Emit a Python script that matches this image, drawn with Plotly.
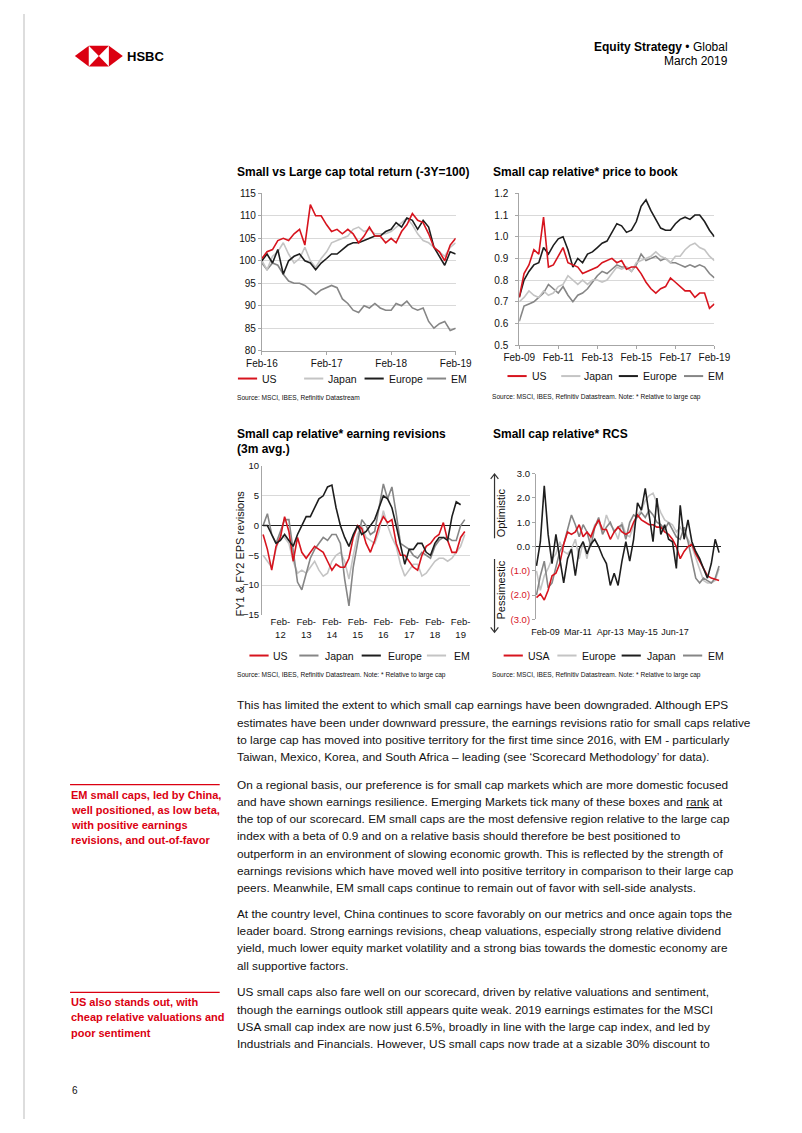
import plotly.graph_objects as go
import pandas as pd

# page is 802x1133; the html body adds an 8px margin, so the figure is drawn 16px smaller
PAGE_W, PAGE_H = 802, 1133
OFF = 8
W, H = PAGE_W - 2 * OFF, PAGE_H - 2 * OFF
FONT = "Liberation Sans, Arial, sans-serif"
RED = "#D7141E"
BLACK = "#1E1E1E"
MID = "#868686"
LIGHT = "#C4C4C4"
GRID = "#D9D9D9"
AXL = "#A6A6A6"

# ---------------- data ----------------
# Chart 1: Small vs Large cap total return (-3Y=100), monthly Feb-16 .. Feb-19
c1_dates = pd.date_range("2016-02-01", periods=37, freq="MS")
c1_us = [100.5, 102, 102.5, 104.5, 105, 104.5, 106, 107, 103.5, 112.5, 110, 110, 108, 106.5, 107, 106, 107, 106, 104,
         105.5, 107.5, 105.5, 105.5, 104, 105, 104, 106.5, 108, 110.5, 109, 108.5, 106, 103, 102, 100, 103.5, 105]
c1_japan = [100, 98, 101, 102, 104, 101.5, 99.5, 100.5, 103, 100, 98.5, 100.5, 102, 104, 104.5, 105, 105.5, 107, 107.5,
            106.5, 107, 106, 106, 106, 106.5, 107.5, 108.5, 109.5, 108, 106, 104.5, 104, 103, 102, 101, 103, 104]
c1_europe = [100, 101.5, 99.5, 102.5, 97, 100, 101, 101.5, 100, 99.5, 98, 99.5, 100.5, 101.5, 101.5, 102.5, 103.5, 104,
             104, 104.5, 105, 105.5, 105.5, 106.5, 107, 108.5, 107.5, 109.5, 109, 107, 109, 107.5, 103, 101, 99, 102, 101.5]
c1_em = [99.5, 98, 99.5, 99, 97, 95.5, 95, 95, 94.5, 93.5, 92.5, 93.5, 94, 94.5, 94, 91.5, 90.5, 89, 88.5, 90, 89.5,
         90.5, 89.5, 89, 89, 90.5, 90, 91, 89.5, 89, 89.5, 86.5, 85, 86, 86.5, 84.5, 85]
c1_ticks = ["2016-02-01", "2017-02-01", "2018-02-01", "2019-02-01"]

# Chart 2: Small cap relative price to book, quarterly Feb-09 .. Feb-19
c2_dates = pd.date_range("2009-02-01", periods=41, freq="3MS")
c2_us = [0.72, 0.83, 0.87, 0.94, 0.92, 1.09, 0.86, 0.87, 0.91, 0.95, 0.88, 0.87, 0.86, 0.83, 0.84, 0.85, 0.86, 0.88,
         0.89, 0.90, 0.88, 0.89, 0.85, 0.86, 0.86, 0.83, 0.79, 0.76, 0.74, 0.76, 0.77, 0.81, 0.79, 0.77, 0.75, 0.75,
         0.72, 0.74, 0.74, 0.67, 0.69]
c2_japan = [0.70, 0.72, 0.75, 0.73, 0.72, 0.75, 0.73, 0.74, 0.77, 0.78, 0.82, 0.80, 0.78, 0.80, 0.78, 0.80, 0.80, 0.79,
            0.80, 0.83, 0.86, 0.85, 0.86, 0.84, 0.88, 0.89, 0.90, 0.91, 0.93, 0.91, 0.90, 0.88, 0.91, 0.91, 0.94, 0.96,
            0.97, 0.95, 0.94, 0.91, 0.89]
c2_europe = [0.72, 0.80, 0.84, 0.87, 0.88, 0.95, 0.92, 0.96, 0.99, 1.00, 0.94, 0.86, 0.90, 0.88, 0.92, 0.93, 0.95, 0.97,
             0.98, 1.02, 1.06, 1.05, 1.02, 1.03, 1.07, 1.14, 1.17, 1.12, 1.08, 1.04, 1.03, 1.03, 1.06, 1.08, 1.09, 1.08,
             1.10, 1.10, 1.07, 1.03, 1.00]
c2_em = [0.61, 0.68, 0.69, 0.70, 0.72, 0.74, 0.78, 0.76, 0.74, 0.77, 0.73, 0.70, 0.73, 0.74, 0.76, 0.79, 0.82, 0.84,
         0.83, 0.85, 0.87, 0.86, 0.86, 0.84, 0.87, 0.92, 0.89, 0.90, 0.91, 0.89, 0.90, 0.88, 0.88, 0.87, 0.86, 0.87,
         0.86, 0.87, 0.86, 0.83, 0.81]
c2_ticks = ["2009-02-01", "2011-02-01", "2013-02-01", "2015-02-01", "2017-02-01", "2019-02-01"]

# Chart 3: Small cap relative earning revisions (3m avg.), bimonthly
c3_dates = pd.date_range("2011-06-01", periods=48, freq="2MS")
c3_us = [-1.5, -4, -7.5, -3.5, -2, 1.5, -1, -6, -2, -4.5, -5.5, -4.5, -3.5, -4, -4.5, -6, -7.5, -6.5, -7, -7, -5.5,
         -2, 0, -0.5, -3, -4.5, -2.5, 0, 1.5, 0.5, 1, -3, -5, -5, -6, -7, -7.5, -5, -3.5, -3, -2, -1.5, 0.5, -2.5,
         -4.5, -4.5, -2, -1]
c3_japan = [0, 2, -1.5, -3, -1, 1, 1, -4, -9.5, -10.8, -8, -5.5, -4, -3, -2, -2.5, -1.5, -1.5, -3, -9, -13.5, -7, -3,
            1, 0, -1.5, -1, 3, 7, 4.5, 6.5, 2, -3, -3.5, -4, -5, -5.5, -4.5, -5, -5.5, -3.5, -2.5, -2, -2, -2.5, -2.5,
            0, 1]
c3_europe = [0, 0, -1.5, -3, -2.5, -1.5, -2.5, -3.5, -1.5, 0, 1.5, 1.5, 3, 4.5, 5, 6.5, 6.8, 3, 0, -2, -3.5, -1.5, 0,
             -1.5, -1, 0, 1, 3, 5, 4.5, 3, 0, -3, -6.5, -4, -4, -3, -3, -4.5, -5, -3, -2, -2, -2.5, 1.5, 4, 3.5]
c3_em = [-5, -6, -7, -4, -1.5, -2, -3, -6, -8, -7.5, -8, -7, -6, -7.5, -8.5, -8, -6, -5, -4.5, -6, -9, -5, -1.5, 0,
         -2, -2.5, -3, -1, 2.5, 0, -2, -3.5, -6.5, -8.5, -7.5, -6.5, -6.5, -8.5, -8, -7, -6, -5.5, -5.5, -6, -5.5,
         -4.5, -3.5, -1.5]
c3_tickdates = ["2012-02-01", "2013-02-01", "2014-02-01", "2015-02-01", "2016-02-01", "2017-02-01", "2018-02-01",
                "2019-02-01"]
c3_ticklabels = ["Feb-<br>12", "Feb-<br>13", "Feb-<br>14", "Feb-<br>15", "Feb-<br>16", "Feb-<br>17", "Feb-<br>18",
                 "Feb-<br>19"]

# Chart 4: Small cap relative RCS (x in months from Feb-09)
c4_months = list(range(-7, 135, 3))
c4_usa = [-2.1, -1.95, -2.2, -1.8, -1.2, -1.1, -0.7, 0.1, 0.6, 0.5, 0.6, 0.9, 0.4, 0.6, 0.4, 0.8, 1.1, 0.7, 0.7, 0.3,
          0.6, 0.8, 0.6, 0.5, 0.6, 1.0, 1.3, 1.1, 1.0, 0.9, 0.9, 0.8, 0.8, 0.6, 0.5, 0.3, 0.0, -0.5, -0.2, 0.0, 0.1,
          -0.3, -0.6, -0.9, -1.2, -1.3, -1.35, -1.4]
c4_europe = [-1.0, -1.8, -1.2, -0.9, -0.5, -0.3, 0.2, -0.2, -0.3, -0.1, 0.3, -0.5, 0.2, -0.5, 0.4, 0.9, 1.0, 0.6, 1.3,
             0.9, 0.7, 0.3, 1.0, 0.5, 0.4, 0.9, 1.3, 1.5, 1.9, 2.1, 2.2, 1.8, 1.4, 1.1, 1.0, 0.9, 0.6, 0.8, 0.5, 0.3,
             0.0, -0.5, -1.0, -1.4, -1.5, -1.5, -1.4, -0.9]
c4_japan = [-0.8, 0.2, 2.5, 0.5, -0.7, 0.5, -0.5, -1.5, -0.5, -0.1, -1.2, -0.1, 0.2, -0.3, 0.1, 0.3, 0.0, -0.4, -0.7,
            -1.6, -1.1, -1.6, -0.6, 0.2, -0.6, 0.3, 1.8, 1.5, 2.4, 1.3, 0.2, 2.0, 0.5, 0.9, 0.3, 0.2, -0.9, 1.7, 0.3,
            1.1, 0.2, -0.2, -0.5, -0.9, -1.3, -0.7, 0.3, -0.25]
c4_em = [-2.0, -1.2, -0.6, -1.7, -1.5, -0.9, -0.2, 0.1, 0.7, 1.3, 0.9, 0.4, 0.9, 0.6, 0.0, 0.8, 1.2, 0.5, 0.8, 1.0,
         0.6, 0.8, 0.9, 0.3, 1.0, 1.3, 1.2, 1.4, 1.2, 1.5, 1.3, 1.0, 0.9, 0.7, 1.0, 0.7, 0.4, 0.3, 0.8, 0.2, -0.5,
         -1.3, -1.5, -1.3, -1.4, -1.5, -1.3, -0.8]
c4_tickmonths = [0, 25, 50, 75, 100]
c4_ticklabels = ["Feb-09", "Mar-11", "Apr-13", "May-15", "Jun-17"]
c4_yvals = [3, 2, 1, 0, -1, -2, -3]
c4_ylabels = ["3.0", "2.0", "1.0", "0.0", "(1.0)", "(2.0)", "(3.0)"]

# Text content
titles = ["Small vs Large cap total return (-3Y=100)", "Small cap relative* price to book",
          "Small cap relative* earning revisions", "(3m avg.)", "Small cap relative* RCS"]
src_a = "Source: MSCI, IBES, Refinitiv Datastream"
src_b = "Source: MSCI, IBES, Refinitiv Datastream. Note: * Relative to large cap"

paragraphs = [
    ["This has limited the extent to which small cap earnings have been downgraded. Although EPS",
     "estimates have been under downward pressure, the earnings revisions ratio for small caps relative",
     "to large cap has moved into positive territory for the first time since 2016, with EM - particularly",
     "Taiwan, Mexico, Korea, and South Africa – leading (see ‘Scorecard Methodology’ for data)."],
    ["On a regional basis, our preference is for small cap markets which are more domestic focused",
     "and have shown earnings resilience. Emerging Markets tick many of these boxes and <u>rank</u> at",
     "the top of our scorecard. EM small caps are the most defensive region relative to the large cap",
     "index with a beta of 0.9 and on a relative basis should therefore be best positioned to",
     "outperform in an environment of slowing economic growth. This is reflected by the strength of",
     "earnings revisions which have moved well into positive territory in comparison to their large cap",
     "peers. Meanwhile, EM small caps continue to remain out of favor with sell-side analysts."],
    ["At the country level, China continues to score favorably on our metrics and once again tops the",
     "leader board. Strong earnings revisions, cheap valuations, especially strong relative dividend",
     "yield, much lower equity market volatility and a strong bias towards the domestic economy are",
     "all supportive factors."],
    ["US small caps also fare well on our scorecard, driven by relative valuations and sentiment,",
     "though the earnings outlook still appears quite weak. 2019 earnings estimates for the MSCI",
     "USA small cap index are now just 6.5%, broadly in line with the large cap index, and led by",
     "Industrials and Financials. However, US small caps now trade at a sizable 30% discount to"],
]
side_notes = [
    ["EM small caps, led by China,", "well positioned, as low beta,", "with positive earnings",
     "revisions, and out-of-favor"],
    ["US also stands out, with", "cheap relative valuations and", "poor sentiment"],
]


# ---------------- helpers (page pixel -> paper) ----------------
def X(px):
    return (px - OFF) / W


def Y(py):
    return 1 - (py - OFF) / H


fig = go.Figure()


def txt(px, py, s, size, color="#111111", anchor="left", bold=False, angle=0):
    if bold:
        s = "<b>" + s + "</b>"
    fig.add_annotation(x=X(px), y=Y(py), xref="paper", yref="paper", text=s, showarrow=False,
                       xanchor=anchor, yanchor="middle", textangle=angle, borderpad=0,
                       font=dict(family=FONT, size=size, color=color))


def hline(x0, x1, y, color, width):
    fig.add_shape(type="line", xref="paper", yref="paper", x0=X(x0), x1=X(x1), y0=Y(y), y1=Y(y),
                  line=dict(color=color, width=width))


def add_lines(xs, series, xa, ya):
    for vals, col in series:
        fig.add_trace(go.Scatter(x=xs, y=vals, mode="lines", line=dict(color=col, width=1.6),
                                 xaxis=xa, yaxis=ya, showlegend=False, hoverinfo="skip"))


# ---------------- traces ----------------
add_lines(c1_dates, [(c1_em, MID), (c1_japan, LIGHT), (c1_europe, BLACK), (c1_us, RED)], "x", "y")
add_lines(c2_dates, [(c2_em, MID), (c2_japan, LIGHT), (c2_europe, BLACK), (c2_us, RED)], "x2", "y2")
add_lines(c3_dates, [(c3_em, LIGHT), (c3_japan, MID), (c3_us, RED)], "x3", "y3")
add_lines(c3_dates[:len(c3_europe)], [(c3_europe, BLACK)], "x3", "y3")
add_lines(c4_months, [(c4_europe, LIGHT), (c4_em, MID), (c4_usa, RED), (c4_japan, BLACK)], "x4", "y4")

tickfont = dict(family=FONT, size=10, color="#111111")
tickfont_s = dict(family=FONT, size=9.5, color="#111111")
tickfont_xs = dict(family=FONT, size=9, color="#111111")

fig.update_layout(
    width=W, height=H, margin=dict(l=0, r=0, t=0, b=0),
    paper_bgcolor="white", plot_bgcolor="white", showlegend=False,
    xaxis=dict(domain=[X(256), X(458)], anchor="y", type="date", range=["2016-02-01", "2019-02-01"],
               tickvals=c1_ticks, tickformat="%b-%y", tickangle=0, showgrid=False, zeroline=False, showline=True,
               linecolor=AXL, linewidth=1, ticks="outside", ticklen=3, tickcolor=AXL, tickfont=tickfont),
    yaxis=dict(domain=[Y(348.3), Y(189.3)], anchor="x", range=[80, 115], dtick=5, tick0=80, showgrid=True,
               gridcolor=GRID, zeroline=False, showline=True, linecolor=AXL, ticks="outside", ticklen=3,
               tickcolor=AXL, tickfont=tickfont),
    xaxis2=dict(domain=[X(524.3), X(727.7)], anchor="y2", type="date", range=["2009-02-01", "2019-02-01"],
                tickvals=c2_ticks, tickformat="%b-%y", tickangle=0, showgrid=False, zeroline=False, showline=True,
                linecolor=AXL, ticks="outside", ticklen=3, tickcolor=AXL, tickfont=tickfont),
    yaxis2=dict(domain=[Y(342.7), Y(189.3)], anchor="x2", range=[0.5, 1.2], dtick=0.1, tick0=0.5,
                tickformat=".1f", showgrid=True, gridcolor=GRID, zeroline=False, showline=True, linecolor=AXL,
                ticks="outside", ticklen=3, tickcolor=AXL, ticklabelstandoff=5, tickfont=tickfont),
    xaxis3=dict(domain=[X(256), X(473)], anchor="y3", type="date", range=["2011-05-15", "2019-06-15"],
                tickvals=c3_tickdates, ticktext=c3_ticklabels, tickangle=0, showgrid=False, zeroline=False,
                showline=False, ticks="", tickfont=tickfont_s),
    yaxis3=dict(domain=[Y(615.3), Y(465)], anchor="x3", range=[-15, 10], dtick=5, tick0=-15, showgrid=True,
                gridcolor=GRID, zeroline=True, zerolinecolor=BLACK, zerolinewidth=1, showline=True,
                linecolor=AXL, ticks="", tickfont=tickfont_s),
    xaxis4=dict(domain=[X(541.7), X(735)], anchor="y4", range=[-7.4, 135.8], tickvals=c4_tickmonths,
                ticktext=c4_ticklabels, tickangle=0, showgrid=False, zeroline=False, showline=False, ticks="",
                ticklabelstandoff=6, tickfont=tickfont_xs),
    yaxis4=dict(domain=[Y(620), Y(472.7)], anchor="x4", range=[-3, 3], tickvals=c4_yvals,
                ticktext=[lab if v >= 0 else "<span style='color:%s'>%s</span>" % (RED, lab)
                          for v, lab in zip(c4_yvals, c4_ylabels)],
                showgrid=False, zeroline=True, zerolinecolor=BLACK, zerolinewidth=1, showline=True,
                linecolor=AXL, ticks="outside", ticklen=3, tickcolor=AXL, tickfont=tickfont_s),
)

# ---------------- chart decorations ----------------
txt(229, 168, titles[0], 12, bold=True, color="#000000")
txt(496, 168, titles[1], 12, bold=True, color="#000000")
txt(229, 433, titles[2], 12, bold=True, color="#000000")
txt(229, 447.5, titles[3], 12, bold=True, color="#000000")
txt(496, 433, titles[4], 12, bold=True, color="#000000")

txt(229, 395.5, src_a, 6.6)
txt(495, 395.5, src_b, 6.6)
txt(229, 676.5, src_b, 6.6)
txt(495, 676.5, src_b, 6.6)

# legends: (label, colour, line start px, text start px)
legends = [
    (376.5, [("US", RED, 231, 255), ("Japan", LIGHT, 300, 324), ("Europe", BLACK, 363, 387), ("EM", MID, 428, 452)]),
    (374, [("US", RED, 512, 536), ("Japan", LIGHT, 568, 591), ("Europe", BLACK, 628, 652), ("EM", MID, 696, 720)]),
    (656.5, [("US", RED, 243, 267), ("Japan", MID, 295, 321), ("Europe", BLACK, 360, 386), ("EM", LIGHT, 428, 455)]),
    (656.5, [("USA", RED, 508, 532), ("Europe", LIGHT, 564, 589), ("Japan", BLACK, 631, 656), ("EM", MID, 695, 720)]),
]
for ly, items in legends:
    for lab, col, lx, tx in items:
        hline(lx, lx + 20, ly, col, 2)
        txt(tx, ly, lab, 10.5)

# chart 3 axis title
txt(233.5, 553, "FY1 &amp; FY2 EPS revisions", 11, anchor="center", angle=-90)

# chart 4 side arrows and labels
txt(505, 512, "Optimistic", 11, anchor="center", angle=-90)
txt(505, 590, "Pessimestic", 11, anchor="center", angle=-90)
arrow = "#333333"
fig.add_shape(type="path", xref="paper", yref="paper",
              path="M %f %f L %f %f M %f %f L %f %f L %f %f" % (
                  X(498.5), Y(538), X(498.5), Y(473),
                  X(494.5), Y(478), X(498.5), Y(473), X(502.5), Y(478)),
              line=dict(color=arrow, width=1.2))
fig.add_shape(type="path", xref="paper", yref="paper",
              path="M %f %f L %f %f M %f %f L %f %f L %f %f" % (
                  X(498.5), Y(559), X(498.5), Y(633),
                  X(494.5), Y(628), X(498.5), Y(633), X(502.5), Y(628)),
              line=dict(color=arrow, width=1.2))

# ---------------- page header ----------------
HSBC_RED = "#DB0011"


def poly(pts, color):
    p = "M " + " L ".join("%f %f" % (X(a), Y(b)) for a, b in pts) + " Z"
    fig.add_shape(type="path", xref="paper", yref="paper", path=p, fillcolor=color,
                  line=dict(width=0))


poly([(61, 50.5), (75.5, 40), (75.5, 61)], HSBC_RED)
poly([(111, 50.5), (96.5, 40), (96.5, 61)], HSBC_RED)
poly([(75.5, 40), (96.5, 40), (86, 50.5)], HSBC_RED)
poly([(75.5, 61), (96.5, 61), (86, 50.5)], HSBC_RED)
txt(114, 51, "HSBC", 13, bold=True, color="#000000")

txt(743, 41, "<b>Equity Strategy</b> • Global", 12, anchor="right", color="#000000")
txt(743, 55.5, "March 2019", 12, anchor="right", color="#000000")

# page border line
fig.add_shape(type="line", xref="paper", yref="paper", x0=0, x1=0, y0=0, y1=1,
              line=dict(color="#BBBBBB", width=1))

# ---------------- body text ----------------
para_start = [707, 787, 917.5, 997]
step = 17.45
for start, lines in zip(para_start, paragraphs):
    for i, line in enumerate(lines):
        txt(229, start + i * step, line, 11.8)

note_line_y = [787, 997]
for ny, lines in zip(note_line_y, side_notes):
    hline(56, 212, ny, HSBC_RED, 1.2)
    for i, line in enumerate(lines):
        txt(56, ny + 10 + i * 15.3, line, 11, color=HSBC_RED, bold=True)

txt(57, 1096, "6", 10)

fig.write_html("out.html")
